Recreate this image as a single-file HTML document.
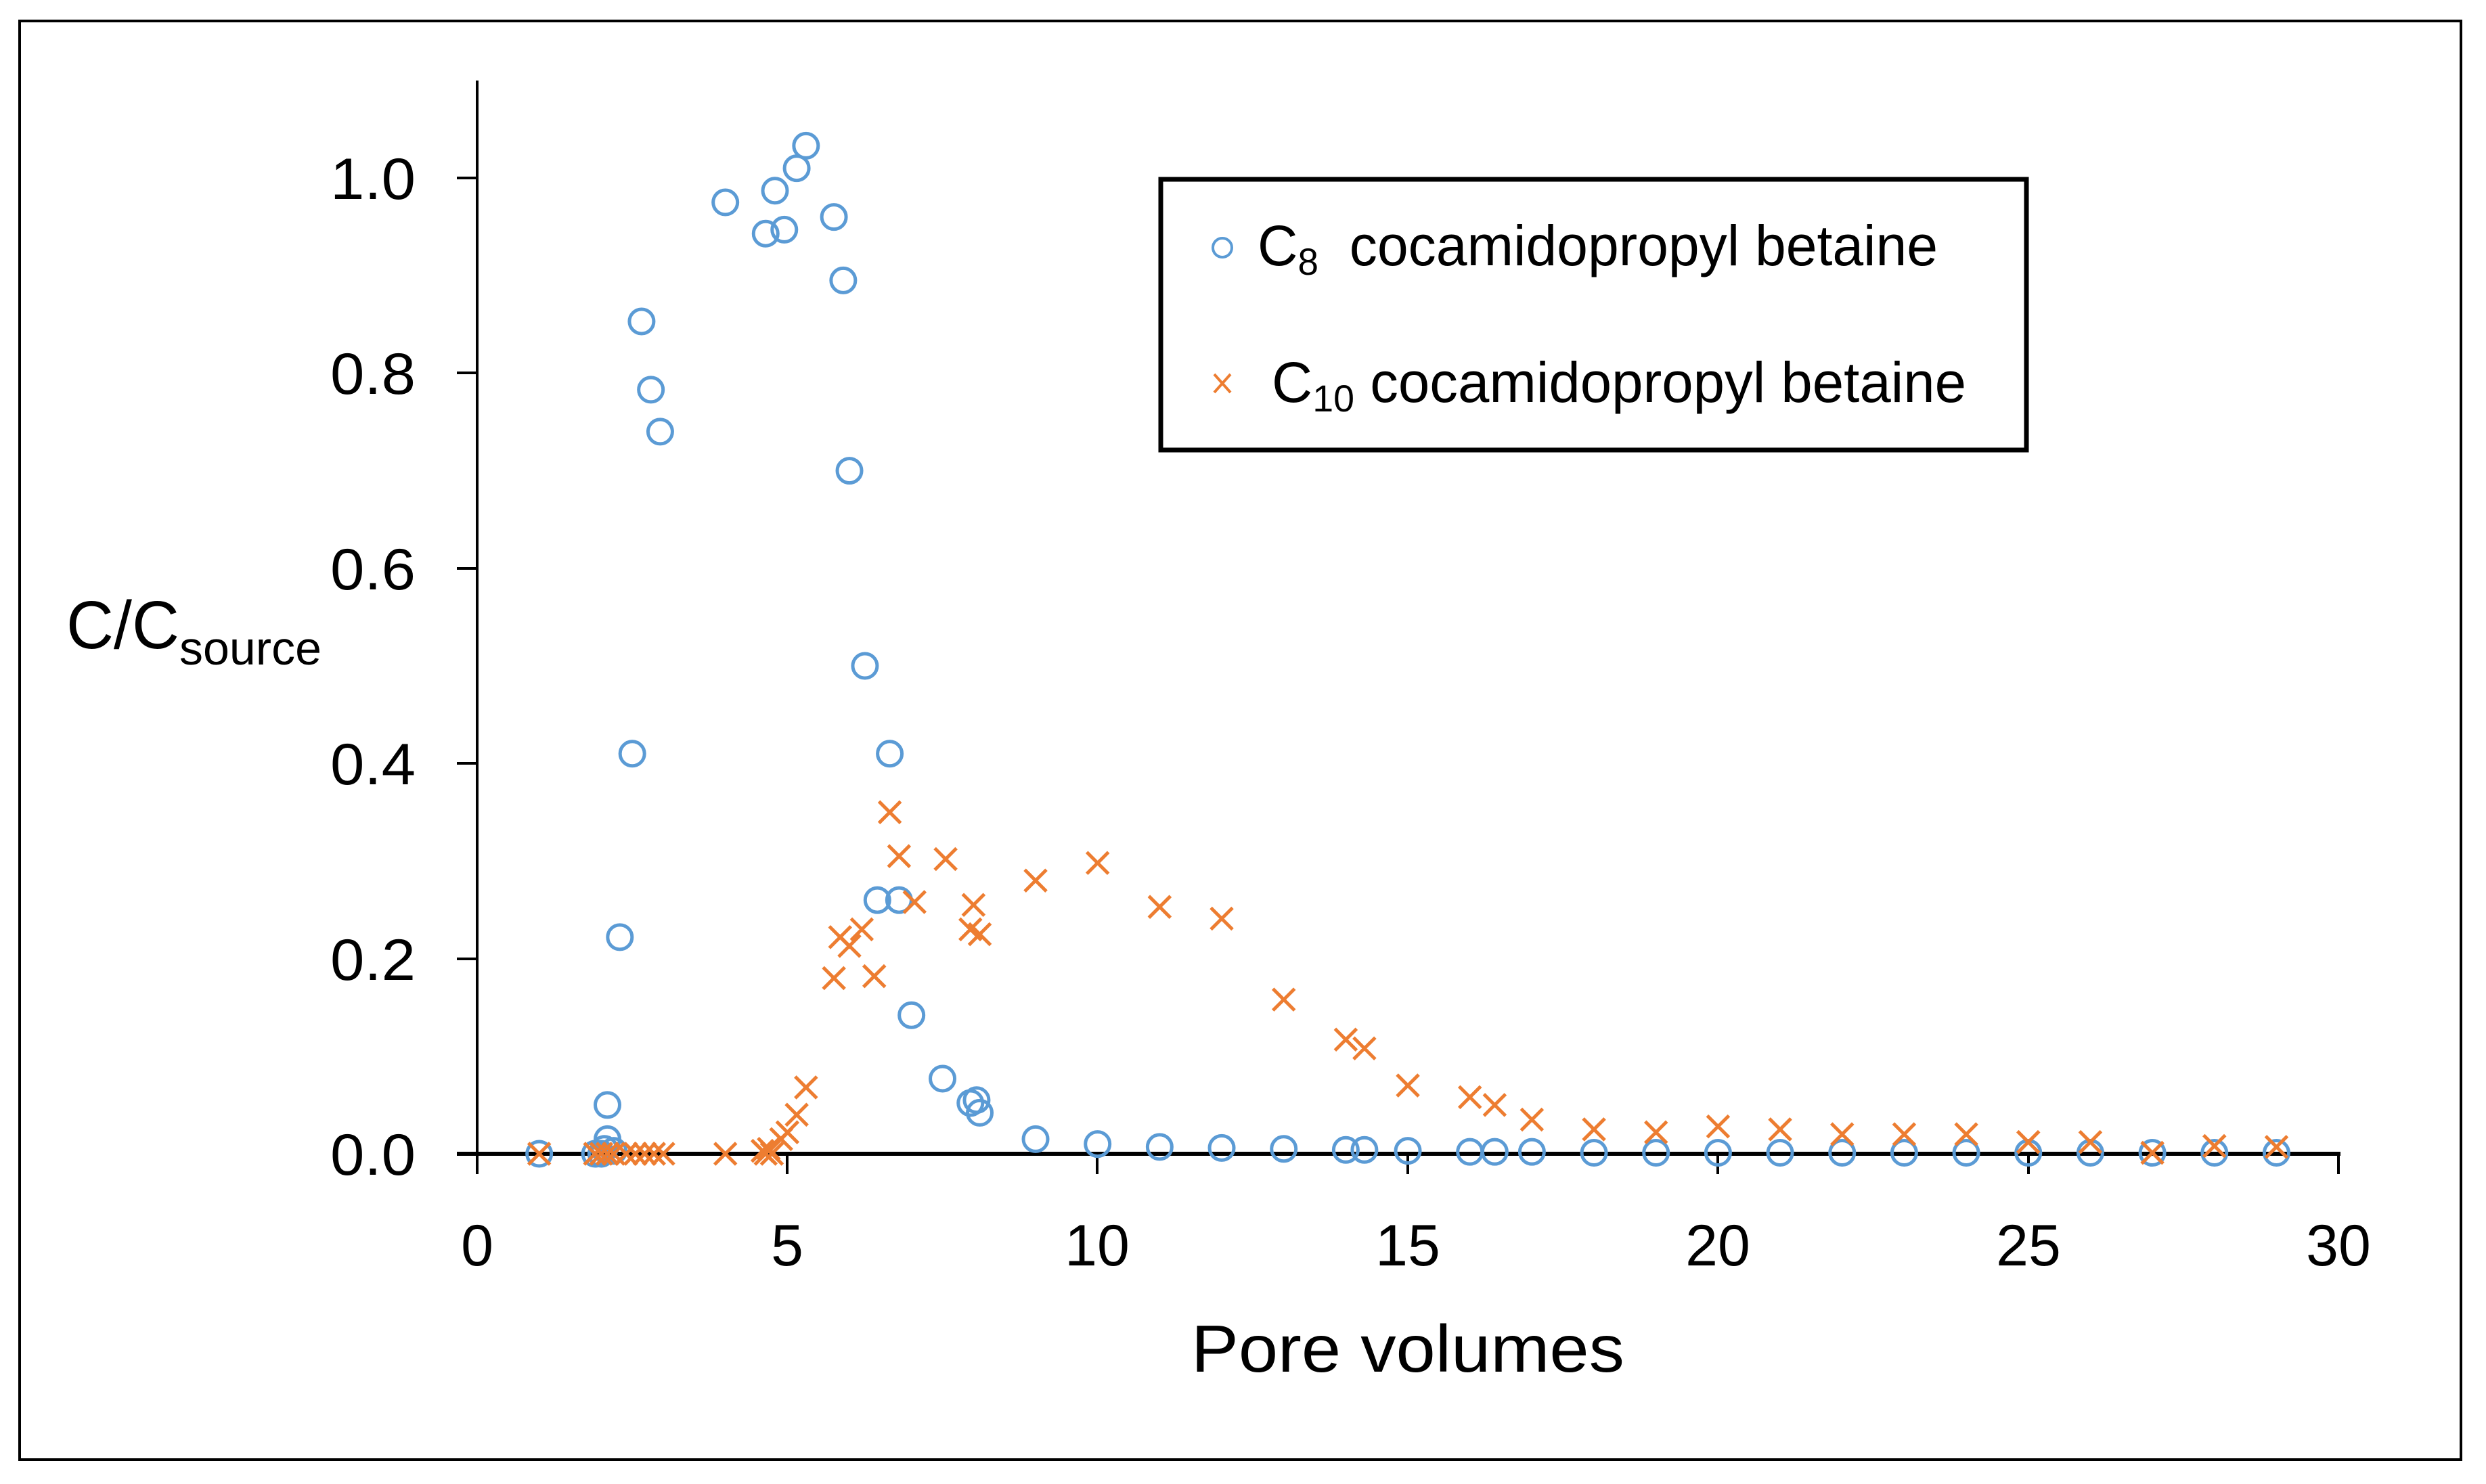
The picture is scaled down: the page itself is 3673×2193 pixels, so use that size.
<!DOCTYPE html>
<html><head><meta charset="utf-8"><style>
html,body{margin:0;padding:0;background:#fff;}
svg{display:block;}
text{font-family:"Liberation Sans",sans-serif;fill:#000;}
</style></head><body>
<svg id="s" width="3673" height="2193" viewBox="0 0 3673 2193" xmlns="http://www.w3.org/2000/svg">
<rect x="0" y="0" width="3673" height="2193" fill="#fff"/>
<rect x="29" y="31" width="3607" height="2126" fill="none" stroke="#000" stroke-width="4"/>
<line x1="705" y1="119" x2="705" y2="1735" stroke="#000" stroke-width="4"/>
<line x1="675" y1="1705" x2="3458" y2="1705" stroke="#000" stroke-width="6"/>
<g stroke="#000" stroke-width="4">
<line x1="675" y1="263" x2="705" y2="263"/>
<line x1="675" y1="551" x2="705" y2="551"/>
<line x1="675" y1="840" x2="705" y2="840"/>
<line x1="675" y1="1128" x2="705" y2="1128"/>
<line x1="675" y1="1417" x2="705" y2="1417"/>
<line x1="1163" y1="1705" x2="1163" y2="1735"/>
<line x1="1621" y1="1705" x2="1621" y2="1735"/>
<line x1="2080" y1="1705" x2="2080" y2="1735"/>
<line x1="2538" y1="1705" x2="2538" y2="1735"/>
<line x1="2997" y1="1705" x2="2997" y2="1735"/>
<line x1="3455" y1="1705" x2="3455" y2="1735"/>
</g>
<g font-size="86" text-anchor="end">
<text x="614" y="294" textLength="126" lengthAdjust="spacingAndGlyphs">1.0</text>
<text x="614" y="582" textLength="126" lengthAdjust="spacingAndGlyphs">0.8</text>
<text x="614" y="871" textLength="126" lengthAdjust="spacingAndGlyphs">0.6</text>
<text x="614" y="1159" textLength="126" lengthAdjust="spacingAndGlyphs">0.4</text>
<text x="614" y="1448" textLength="126" lengthAdjust="spacingAndGlyphs">0.2</text>
<text x="614" y="1736" textLength="126" lengthAdjust="spacingAndGlyphs">0.0</text>
</g>
<g font-size="86" text-anchor="middle">
<text x="705" y="1870">0</text>
<text x="1163" y="1870">5</text>
<text x="1621" y="1870">10</text>
<text x="2080" y="1870">15</text>
<text x="2538" y="1870">20</text>
<text x="2997" y="1870">25</text>
<text x="3455" y="1870">30</text>
</g>
<text x="1760" y="2027" font-size="98" textLength="640" lengthAdjust="spacingAndGlyphs">Pore volumes</text>
<text x="98" y="958" font-size="100" textLength="167" lengthAdjust="spacingAndGlyphs">C/C</text>
<text x="265" y="982" font-size="70" textLength="210" lengthAdjust="spacingAndGlyphs">source</text>
<rect x="1715" y="265" width="1279" height="400" fill="#fff" stroke="#000" stroke-width="7"/>
<circle cx="1806" cy="366" r="14" fill="none" stroke="#5B9BD5" stroke-width="4"/>
<g stroke="#ED7D31" stroke-width="4"><line x1="1794" y1="553" x2="1818" y2="580"/><line x1="1818" y1="553" x2="1794" y2="580"/></g>
<text x="1858" y="392" font-size="84" textLength="1005" lengthAdjust="spacingAndGlyphs">C<tspan font-size="56" dy="14">8</tspan><tspan dy="-14" xml:space="preserve">  cocamidopropyl betaine</tspan></text>
<text x="1879" y="594" font-size="84" textLength="1026" lengthAdjust="spacingAndGlyphs">C<tspan font-size="56" dy="14">10</tspan><tspan dy="-14"> cocamidopropyl betaine</tspan></text>
<g id="pts"></g>
</svg>
<script>
var X=function(v){return 705+v*91.67;},Y=function(v){return 1705-v*1442;};
var c8=[[1,0],[1.9,0],[2,0],[2.05,0.005],[2.1,0.015],[2.2,0.003],[2.1,0.05],[2.3,0.222],[2.5,0.41],[2.65,0.853],[2.8,0.783],[2.95,0.74],[4,0.975],[4.65,0.943],[4.8,0.987],[4.95,0.947],[5.15,1.01],[5.3,1.033],[5.75,0.96],[5.9,0.895],[6,0.7],[6.25,0.5],[6.65,0.41],[6.45,0.26],[6.8,0.26],[7,0.142],[7.5,0.077],[7.95,0.052],[8.05,0.055],[8.1,0.042],[9,0.015],[10,0.01],[11,0.007],[12,0.006],[13,0.005],[14,0.004],[14.3,0.004],[15,0.003],[16,0.002],[16.4,0.002],[17,0.002],[18,0.001],[19,0.001],[20,0.001],[21,0.001],[22,0.001],[23,0.001],[24,0.001],[25,0.001],[26,0.001],[27,0.001],[28,0.001],[29,0.001]];
var c10=[[1,0],[1.9,0],[2,0],[2.1,0],[2.2,0],[2.4,0],[2.55,0],[2.7,0],[2.85,0],[3,0],[4,0],[4.6,0.003],[4.65,0],[4.7,0.005],[4.75,0],[4.9,0.015],[5,0.022],[5.15,0.04],[5.3,0.068],[5.75,0.18],[5.85,0.222],[6,0.213],[6.2,0.23],[6.4,0.182],[6.65,0.35],[6.8,0.305],[7.05,0.258],[7.55,0.302],[8,0.255],[7.95,0.23],[8.1,0.225],[9,0.28],[10,0.298],[11,0.253],[12,0.241],[13,0.158],[14,0.117],[14.3,0.108],[15,0.07],[16,0.058],[16.4,0.05],[17,0.035],[18,0.025],[19,0.022],[20,0.028],[21,0.025],[22,0.02],[23,0.02],[24,0.02],[25,0.012],[26,0.012],[27,0.001],[28,0.008],[29,0.007]];
var h='';
c8.forEach(function(p){h+='<circle cx="'+X(p[0])+'" cy="'+Y(p[1])+'" r="18" fill="none" stroke="#5B9BD5" stroke-width="5"/>';});
c10.forEach(function(p){var x=X(p[0]),y=Y(p[1]),d=16;h+='<path d="M'+(x-d)+' '+(y-d)+'L'+(x+d)+' '+(y+d)+'M'+(x+d)+' '+(y-d)+'L'+(x-d)+' '+(y+d)+'" stroke="#ED7D31" stroke-width="5" fill="none"/>';});
document.getElementById('pts').innerHTML=h;
</script>
</body></html>
